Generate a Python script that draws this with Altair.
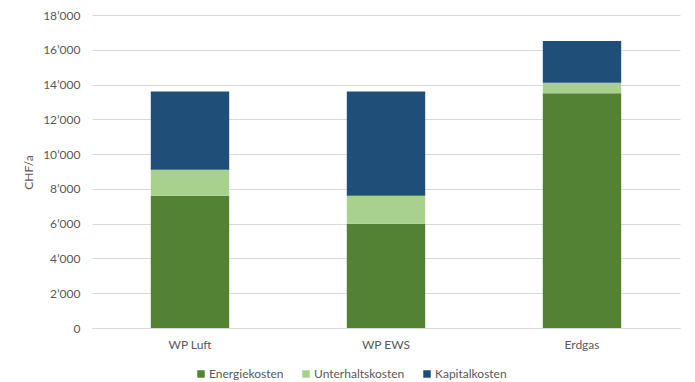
import altair as alt
import pandas as pd

categories = ["WP Luft", "WP EWS", "Erdgas"]
series = ["Energiekosten", "Unterhaltskosten", "Kapitalkosten"]
energie = [7600, 6000, 13500]
unterhalt = [1500, 1600, 600]
kapital = [4500, 6000, 2400]
colors = ["#548235", "#A9D18E", "#1F4E79"]
y_ticks = [0, 2000, 4000, 6000, 8000, 10000, 12000, 14000, 16000, 18000]

rows = []
for i, c in enumerate(categories):
    for j, (s, vals) in enumerate(zip(series, [energie, unterhalt, kapital])):
        rows.append({"Kategorie": c, "Kostenart": s, "Wert": vals[i], "Ordnung": j})
df = pd.DataFrame(rows)

FONT = "Lato"
GREY = "#595959"

chart = alt.Chart(df).mark_bar().encode(
    x=alt.X("Kategorie:N", sort=categories,
            scale=alt.Scale(paddingInner=0.6, paddingOuter=0.3),
            axis=alt.Axis(title=None, labelAngle=0, ticks=False, domain=True,
                          domainColor="#d9d9d9", labelPadding=11, grid=False)),
    y=alt.Y("Wert:Q", stack="zero",
            scale=alt.Scale(domain=[0, 18000], nice=False),
            axis=alt.Axis(title="CHF/a", values=y_ticks, ticks=False, domain=False,
                          gridColor="#d9d9d9", labelPadding=12,
                          labelExpr="replace(format(datum.value, ','), ',', '’')",
                          titleX=-57, titleY=157, titleFontWeight="normal")),
    color=alt.Color("Kostenart:N", sort=series,
                    scale=alt.Scale(domain=series, range=colors),
                    legend=alt.Legend(title=None, orient="none", direction="horizontal",
                                      legendX=103, legendY=353, symbolType="square",
                                      symbolSize=56, symbolStrokeWidth=0,
                                      columnPadding=16, labelOffset=2)),
    order=alt.Order("Ordnung:Q", sort="ascending"),
).properties(
    width=588, height=313,
    autosize=alt.AutoSizeParams(type="none"),
    padding={"left": 92, "top": 15, "right": 15, "bottom": 54},
).configure_view(stroke=None).configure_axis(
    labelFont=FONT, titleFont=FONT, labelFontSize=12, titleFontSize=12,
    labelColor=GREY, titleColor=GREY,
).configure_legend(
    labelFont=FONT, labelFontSize=12, labelColor=GREY,
)

chart.save("out.html", embed_options={"renderer": "svg", "actions": False})
